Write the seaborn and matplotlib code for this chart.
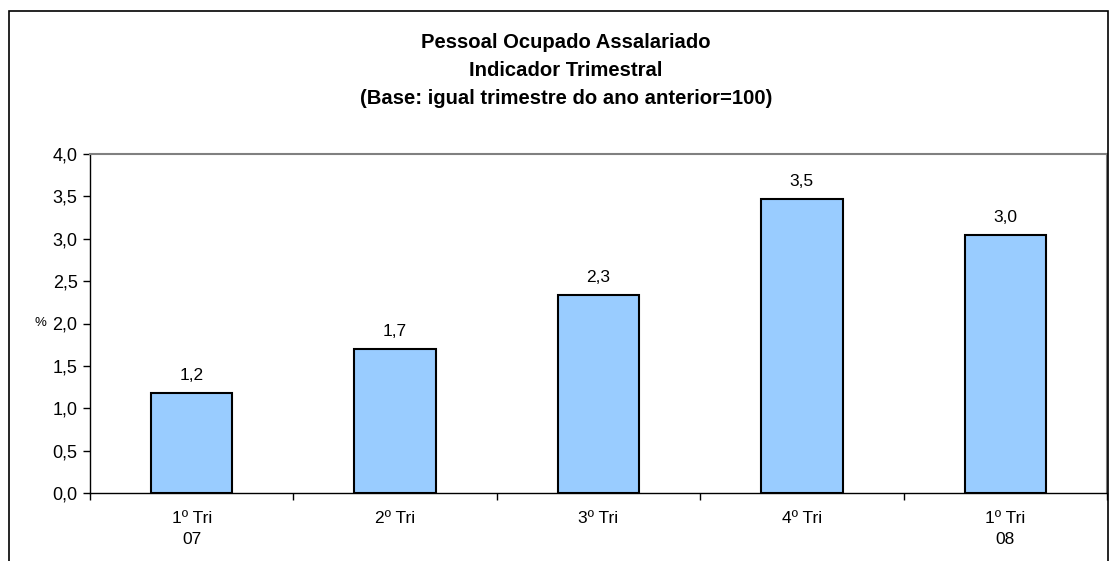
import matplotlib
matplotlib.use("Agg")
import matplotlib.pyplot as plt
import seaborn as sns
import pandas as pd
from matplotlib.patches import Rectangle
from matplotlib.ticker import FuncFormatter, MultipleLocator, FixedLocator

# data
categories = ["1º Tri\n07", "2º Tri", "3º Tri", "4º Tri", "1º Tri\n08"]
values = [1.18, 1.70, 2.34, 3.47, 3.04]
df = pd.DataFrame({"trimestre": categories, "valor": values})

sns.set_style("white")
plt.rcParams["font.family"] = ["Liberation Sans", "DejaVu Sans"]
plt.rcParams["text.color"] = "black"
plt.rcParams["xtick.color"] = "black"
plt.rcParams["ytick.color"] = "black"

W, H = 1110, 561
fig = plt.figure(figsize=(W / 100, H / 100), dpi=100)
ax = fig.add_axes([90 / W, 1 - 493 / H, (1107 - 90) / W, (493 - 154) / H])

sns.barplot(data=df, x="trimestre", y="valor", color="#99CCFF", width=0.4,
            edgecolor="black", linewidth=1.5, saturation=1, ax=ax)

for i, v in enumerate(values):
    ax.text(i, v + 0.12, f"{v:.1f}".replace(".", ","), ha="center", va="bottom", fontsize=12.5)

ax.set_ylim(0, 4)
ax.set_xlim(-0.5, len(categories) - 0.5)
ax.yaxis.set_major_locator(MultipleLocator(0.5))
ax.yaxis.set_major_formatter(FuncFormatter(lambda y, p: f"{y:.1f}".replace(".", ",")))
ax.set_xlabel("")
ax.set_ylabel("")
ax.tick_params(axis="y", labelsize=13, length=5, width=1, direction="out", pad=4, left=True)
ax.tick_params(axis="x", labelsize=12.5, length=0, pad=13)
for lbl in ax.get_xticklabels():
    lbl.set_linespacing(1.5)
# minor ticks between categories on x axis
ax.xaxis.set_minor_locator(FixedLocator([i + 0.5 for i in range(-1, len(categories))]))
ax.tick_params(axis="x", which="minor", length=5, width=1, bottom=True)

for s in ["left", "bottom"]:
    ax.spines[s].set_color("black")
    ax.spines[s].set_linewidth(1)
for s in ["top", "right"]:
    ax.spines[s].set_color("#808080")
    ax.spines[s].set_linewidth(1.5)

fig.text(40 / W, 1 - 323 / H, "%", fontsize=9.5, ha="center", va="center")

title_lines = ["Pessoal Ocupado Assalariado", "Indicador Trimestral",
               "(Base: igual trimestre do ano anterior=100)"]
for k, line in enumerate(title_lines):
    fig.text(566 / W, 1 - (48 + 28 * k) / H, line, ha="center", va="baseline",
             fontsize=14.6, fontweight="bold")

fig.patches.append(Rectangle((9 / W, -0.1), (1108 - 9) / W, 1.1 - 11 / H,
                             transform=fig.transFigure, fill=False,
                             edgecolor="black", linewidth=1.2))

fig.savefig("out.png", dpi=100)
